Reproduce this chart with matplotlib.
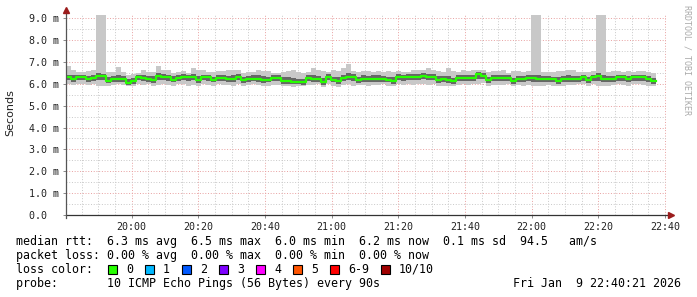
import matplotlib
matplotlib.use("Agg")
import matplotlib.pyplot as plt
import numpy as np
from matplotlib.patches import Rectangle

# smokeping style latency graph, 90s samples, values in ms
start_min = 19 * 60 + 40 + 21 / 60   # 19:40:21
step_min = 1.5

median = [6.32, 6.24, 6.32, 6.32, 6.24, 6.28, 6.35, 6.35, 6.14, 6.24,
          6.24, 6.24, 6.02, 6.14, 6.32, 6.28, 6.24, 6.19, 6.35, 6.32,
          6.32, 6.19, 6.26, 6.32, 6.32, 6.32, 6.19, 6.32, 6.32, 6.19,
          6.26, 6.26, 6.24, 6.24, 6.32, 6.19, 6.24, 6.24, 6.24, 6.19,
          6.19, 6.28, 6.28, 6.14, 6.14, 6.10, 6.10, 6.08, 6.27, 6.24,
          6.24, 6.10, 6.32, 6.19, 6.14, 6.27, 6.32, 6.32, 6.19, 6.24,
          6.24, 6.24, 6.24, 6.24, 6.19, 6.14, 6.32, 6.32, 6.32, 6.32,
          6.32, 6.37, 6.32, 6.32, 6.19, 6.24, 6.19, 6.14, 6.28, 6.28,
          6.28, 6.28, 6.44, 6.37, 6.19, 6.28, 6.28, 6.27, 6.27, 6.14,
          6.24, 6.24, 6.27, 6.27, 6.24, 6.20, 6.20, 6.20, 6.14, 6.20,
          6.24, 6.24, 6.24, 6.29, 6.17, 6.29, 6.35, 6.24, 6.21, 6.21,
          6.29, 6.29, 6.21, 6.29, 6.29, 6.29, 6.20, 6.14]

rtt_max = [6.80, 6.62, 6.55, 6.55, 6.60, 6.65, 9.14, 9.14, 6.55, 6.55,
           6.75, 6.55, 6.40, 6.45, 6.50, 6.62, 6.55, 6.55, 6.80, 6.65,
           6.65, 6.50, 6.55, 6.60, 6.50, 6.70, 6.62, 6.62, 6.55, 6.55,
           6.60, 6.60, 6.65, 6.65, 6.62, 6.48, 6.55, 6.55, 6.65, 6.60,
           6.60, 6.50, 6.50, 6.55, 6.60, 6.62, 6.55, 6.50, 6.55, 6.70,
           6.62, 6.58, 6.55, 6.62, 6.58, 6.70, 6.90, 6.60, 6.55, 6.60,
           6.60, 6.55, 6.60, 6.55, 6.60, 6.55, 6.60, 6.55, 6.55, 6.62,
           6.65, 6.65, 6.70, 6.65, 6.60, 6.55, 6.70, 6.60, 6.55, 6.62,
           6.60, 6.65, 6.62, 6.65, 6.55, 6.60, 6.60, 6.62, 6.50, 6.60,
           6.60, 6.55, 6.60, 9.14, 9.14, 6.55, 6.55, 6.55, 6.60, 6.60,
           6.65, 6.65, 6.55, 6.55, 6.55, 6.60, 9.14, 9.14, 6.55, 6.60,
           6.60, 6.55, 6.60, 6.55, 6.58, 6.60, 6.55, 6.50]

rtt_min = [6.00, 5.95, 6.00, 5.98, 5.95, 6.00, 5.90, 5.92, 5.92, 5.95,
           5.98, 5.95, 5.88, 5.90, 6.00, 5.95, 5.98, 5.92, 5.95, 6.00,
           5.95, 5.92, 5.98, 6.00, 5.90, 5.95, 5.92, 5.98, 5.95, 5.92,
           5.98, 5.95, 5.95, 5.92, 6.00, 5.92, 5.95, 5.98, 5.95, 5.90,
           5.92, 5.95, 5.95, 5.90, 5.88, 5.85, 5.88, 5.88, 5.95, 5.95,
           5.98, 5.85, 6.00, 5.92, 5.85, 5.95, 6.00, 5.92, 5.95, 5.95,
           5.92, 5.95, 5.95, 5.98, 5.92, 5.88, 5.98, 5.95, 6.00, 5.95,
           5.98, 6.00, 5.95, 5.98, 5.90, 5.92, 5.92, 5.88, 5.95, 5.98,
           5.95, 5.98, 6.00, 6.02, 5.88, 5.95, 5.95, 5.95, 5.98, 5.88,
           5.95, 5.92, 5.95, 5.88, 5.88, 5.92, 5.95, 5.92, 5.88, 5.92,
           5.95, 5.95, 5.98, 6.00, 5.90, 5.98, 5.88, 5.92, 5.92, 5.95,
           5.98, 5.95, 5.92, 6.00, 5.98, 5.95, 5.92, 5.90]

rtt_hi = [6.42, 6.38, 6.40, 6.40, 6.36, 6.40, 6.48, 6.46, 6.32, 6.36,
          6.40, 6.36, 6.22, 6.28, 6.42, 6.42, 6.36, 6.34, 6.50, 6.44,
          6.42, 6.34, 6.38, 6.44, 6.40, 6.46, 6.34, 6.42, 6.42, 6.32,
          6.40, 6.40, 6.36, 6.38, 6.44, 6.32, 6.36, 6.38, 6.40, 6.34,
          6.32, 6.40, 6.38, 6.30, 6.32, 6.26, 6.24, 6.22, 6.40, 6.40,
          6.36, 6.26, 6.44, 6.32, 6.30, 6.42, 6.50, 6.44, 6.32, 6.38,
          6.36, 6.38, 6.40, 6.36, 6.32, 6.30, 6.44, 6.42, 6.44, 6.46,
          6.44, 6.50, 6.46, 6.44, 6.34, 6.36, 6.34, 6.28, 6.40, 6.42,
          6.40, 6.40, 6.54, 6.48, 6.32, 6.40, 6.40, 6.38, 6.38, 6.28,
          6.36, 6.36, 6.40, 6.42, 6.38, 6.34, 6.34, 6.32, 6.30, 6.34,
          6.38, 6.36, 6.36, 6.42, 6.32, 6.42, 6.48, 6.38, 6.34, 6.36,
          6.42, 6.42, 6.34, 6.42, 6.40, 6.42, 6.34, 6.28]

rtt_lo = [6.18, 6.10, 6.16, 6.18, 6.10, 6.14, 6.18, 6.18, 6.02, 6.08,
          6.10, 6.08, 5.95, 6.00, 6.16, 6.12, 6.10, 6.05, 6.18, 6.16,
          6.14, 6.06, 6.12, 6.16, 6.14, 6.16, 6.05, 6.16, 6.14, 6.06,
          6.12, 6.12, 6.10, 6.08, 6.16, 6.05, 6.10, 6.12, 6.10, 6.04,
          6.06, 6.12, 6.12, 6.00, 6.00, 5.98, 5.98, 5.96, 6.12, 6.10,
          6.10, 5.96, 6.16, 6.06, 6.00, 6.12, 6.16, 6.14, 6.05, 6.10,
          6.08, 6.10, 6.10, 6.10, 6.06, 6.00, 6.16, 6.14, 6.16, 6.16,
          6.16, 6.20, 6.16, 6.16, 6.05, 6.10, 6.05, 6.00, 6.14, 6.14,
          6.14, 6.14, 6.24, 6.20, 6.05, 6.12, 6.14, 6.12, 6.12, 6.00,
          6.10, 6.08, 6.12, 6.10, 6.08, 6.06, 6.08, 6.06, 6.00, 6.06,
          6.10, 6.10, 6.10, 6.14, 6.04, 6.14, 6.14, 6.08, 6.08, 6.08,
          6.14, 6.14, 6.06, 6.14, 6.14, 6.14, 6.06, 6.00]

x_labels = ['20:00', '20:20', '20:40', '21:00', '21:20', '21:40', '22:00', '22:20', '22:40']
y_labels = ['0.0  ', '1.0 m', '2.0 m', '3.0 m', '4.0 m', '5.0 m', '6.0 m', '7.0 m', '8.0 m', '9.0 m']

loss_labels = ['0', '1', '2', '3', '4', '5', '6-9', '10/10']
loss_colors = ['#26ff00', '#00b8ff', '#0059ff', '#7e00ff', '#ff00ff', '#ff5500', '#ff0000', '#a00000']

legend_lines = [
    'median rtt:  6.3 ms avg  6.5 ms max  6.0 ms min  6.2 ms now  0.1 ms sd  94.5   am/s',
    'packet loss: 0.00 % avg  0.00 % max  0.00 % min  0.00 % now',
    'loss color:',
    'probe:       10 ICMP Echo Pings (56 Bytes) every 90s',
]
stamp = 'Fri Jan  9 22:40:21 2026'

W, H = 697, 297
MONO = 'DejaVu Sans Mono'


def fx(x):
    return x / W


def fy(y):
    return 1 - y / H


def ext(v):
    return np.append(np.asarray(v), v[-1])


times = start_min + np.arange(len(median) + 1) * step_min

fig = plt.figure(figsize=(W / 100, H / 100), dpi=100)
ax = fig.add_axes([fx(66), 1 - 215 / H, 600 / W, 200 / H])

# smoke: outer spread light, inner spread dark, then the median
ax.fill_between(times, ext(rtt_min), ext(rtt_max), step='post', color='#c8c8c8', lw=0, zorder=2)
ax.fill_between(times, ext(rtt_lo), ext(rtt_hi), step='post', color='#666666', lw=0, zorder=3)
ax.step(times, ext(median), where='post', color='#26ff00', lw=1.6, zorder=4)

ax.set_xlim(start_min, start_min + 180)
ax.set_ylim(0, 9.145)

major_x = [20 * 60 + 20 * i for i in range(len(x_labels))]
ax.set_xticks(major_x)
ax.set_xticklabels(x_labels)
ax.set_xticks(np.arange(1185, start_min + 180, 5), minor=True)
ax.set_yticks(range(len(y_labels)))
ax.set_yticklabels(y_labels)
ax.set_yticks(np.arange(0.5, 9.1, 1.0), minor=True)

ax.grid(which='minor', color='#c8c8c8', linestyle=(0, (1, 1.8)), lw=0.7)
ax.grid(which='major', color='#e8a0a0', linestyle=(0, (1, 1.8)), lw=0.7)
ax.set_axisbelow(True)

ax.tick_params(which='both', direction='out', length=2, width=0.6, color='#777777',
               labelsize=7.2, labelcolor='#222222', pad=3)
ax.tick_params(which='minor', length=0)
for lab in ax.get_xticklabels() + ax.get_yticklabels():
    lab.set_fontfamily(MONO)

for s in ax.spines.values():
    s.set_visible(False)

# axes with arrow heads, rrdtool style
ax.plot([0, 1.008], [0, 0], transform=ax.transAxes, clip_on=False, color='#333333', lw=0.9, zorder=5)
ax.plot([0, 0], [-0.015, 1.02], transform=ax.transAxes, clip_on=False, color='#555555', lw=0.9, zorder=5)
ax.plot([1.008], [0], marker='>', ms=4, color='#9b1c1c', transform=ax.transAxes, clip_on=False, zorder=6)
ax.plot([0], [1.025], marker='^', ms=4, color='#9b1c1c', transform=ax.transAxes, clip_on=False, zorder=6)

fig.text(fx(10), fy(113), 'Seconds', rotation=90, ha='center', va='center',
         fontsize=8, family='DejaVu Sans', color='#222222')
fig.text(fx(687), fy(60), 'RRDTOOL / TOBI OETIKER', rotation=270, ha='center', va='center',
         fontsize=6, family=MONO, color='#aaaaaa')

for i, line in enumerate(legend_lines):
    fig.text(fx(16), fy(241.5 + 14 * i), line, ha='left', va='center',
             fontsize=8.4, family=MONO, color='#000000')
fig.text(fx(681), fy(283.5), stamp, ha='right', va='center', fontsize=8.4, family=MONO, color='#000000')

# loss colour boxes
bx = 108
for lab, col in zip(loss_labels, loss_colors):
    fig.patches.append(Rectangle((fx(bx), fy(273.5)), 9 / W, 9 / H, transform=fig.transFigure,
                                 facecolor=col, edgecolor='#000000', lw=0.8))
    fig.text(fx(bx + 18), fy(269.5), lab, ha='left', va='center', fontsize=8.4, family=MONO)
    bx += 37 + 7 * (len(lab) - 1)

fig.savefig('out.png', dpi=100, facecolor='white')
